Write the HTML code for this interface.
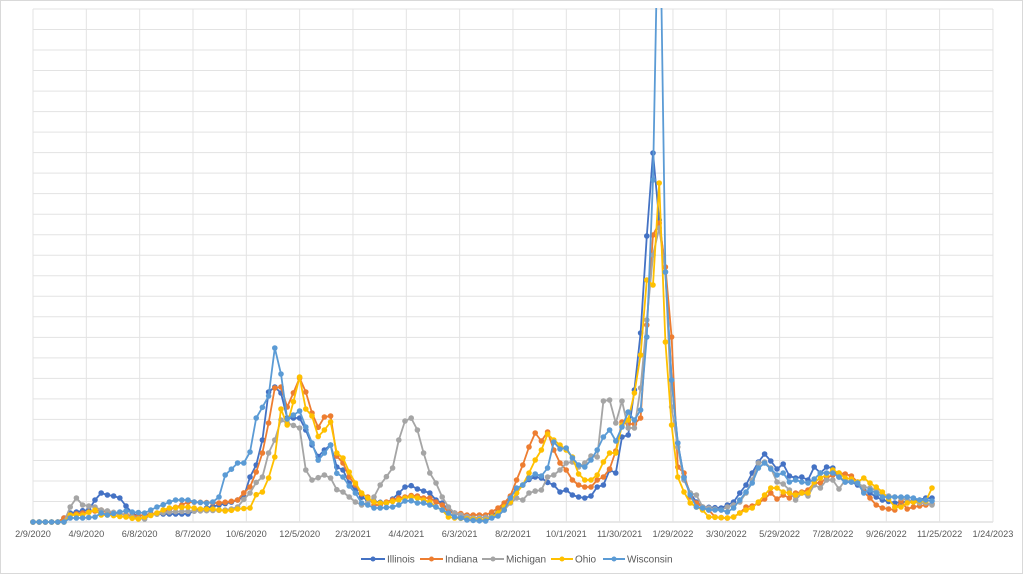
<!DOCTYPE html>
<html><head><meta charset="utf-8"><style>
html,body{margin:0;padding:0;background:#fff;}
svg{display:block;font-family:"Liberation Sans",sans-serif;}
</style></head><body>
<svg id="c" width="1023" height="575" viewBox="0 0 1023 575" xmlns="http://www.w3.org/2000/svg">
<rect x="0.5" y="0.5" width="1022" height="573" fill="#fff" stroke="#d9d9d9"/>
<g id="grid"></g>
<g id="labels" font-size="9.2" fill="#595959" text-anchor="middle"></g>
<defs><clipPath id="cp"><rect x="30" y="8" width="970" height="520"/></clipPath></defs>
<g id="series" clip-path="url(#cp)"></g>
<g font-size="10" fill="#595959">
<line x1="361" y1="559" x2="385" y2="559" stroke="#4472C4" stroke-width="2"/><circle cx="373" cy="559" r="2.5" fill="#4472C4"/><text x="387" y="562.5">Illinois</text>
<line x1="420" y1="559" x2="443" y2="559" stroke="#ED7D31" stroke-width="2"/><circle cx="431.5" cy="559" r="2.5" fill="#ED7D31"/><text x="445" y="562.5">Indiana</text>
<line x1="482" y1="559" x2="504" y2="559" stroke="#A5A5A5" stroke-width="2"/><circle cx="493" cy="559" r="2.5" fill="#A5A5A5"/><text x="506" y="562.5">Michigan</text>
<line x1="551" y1="559" x2="573" y2="559" stroke="#FFC000" stroke-width="2"/><circle cx="562" cy="559" r="2.5" fill="#FFC000"/><text x="575" y="562.5">Ohio</text>
<line x1="603" y1="559" x2="625" y2="559" stroke="#5B9BD5" stroke-width="2"/><circle cx="614" cy="559" r="2.5" fill="#5B9BD5"/><text x="627" y="562.5">Wisconsin</text>
</g>
</svg>
<script>
(function(){
var NS="http://www.w3.org/2000/svg";
function el(t,a,p){var e=document.createElementNS(NS,t);for(var k in a)e.setAttribute(k,a[k]);p.appendChild(e);return e;}
var g=document.getElementById('grid');
for(var i=0;i<=25;i++){var y=9+i*20.52;el('line',{x1:33,x2:993,y1:y,y2:y,stroke:i==25?'#d0d0d0':'#e3e3e3','stroke-width':1},g);}
var labs=["2/9/2020","4/9/2020","6/8/2020","8/7/2020","10/6/2020","12/5/2020","2/3/2021","4/4/2021","6/3/2021","8/2/2021","10/1/2021","11/30/2021","1/29/2022","3/30/2022","5/29/2022","7/28/2022","9/26/2022","11/25/2022","1/24/2023"];
var L=document.getElementById('labels');
for(var j=0;j<labs.length;j++){var x=33+j*53.33;el('line',{x1:x,x2:x,y1:9,y2:522,stroke:'#e3e3e3','stroke-width':1},g);
var t=el('text',{x:x,y:537},L);t.textContent=labs[j];}
var S={
"#4472C4":[[33,522],[60,522],[66,518],[72,513],[86,510],[97,500],[103,493],[110,495],[116,496],[122,498],[128,506],[135,513],[139,516],[150,514],[185,514],[190,512],[240,500],[245,497],[252,477],[258,465],[265,440],[271,392],[277,387],[283,393],[290,418],[297,418],[303,430],[309,445],[315,462],[322,450],[328,445],[334,467],[340,470],[347,483],[353,490],[365,500],[385,503],[390,499],[397,493],[402,487],[408,483],[415,489],[421,491],[428,493],[433,500],[440,503],[447,510],[467,518],[483,520],[497,512],[510,497],[520,485],[533,477],[540,478],[552,485],[558,492],[565,490],[572,495],[577,497],[583,498],[590,496],[595,487],[602,485],[608,470],[613,473],[620,437],[627,435],[632,390],[638,333],[645,236],[652,153],[658,220],[665,272],[670,380],[677,443],[683,477],[690,493],[697,502],[705,507],[720,508],[727,505],[733,502],[739,493],[745,485],[752,473],[757,462],[764,454],[770,461],[777,469],[783,464],[788,476],[795,478],[802,477],[808,480],[813,467],[820,473],[827,467],[833,468],[838,477],[845,482],[852,482],[858,485],[865,490],[872,493],[878,497],[885,500],[892,503],[900,502],[907,502],[913,500],[920,500],[927,498],[932,498]],
"#ED7D31":[[33,522],[60,522],[66,518],[72,515],[80,513],[90,512],[100,510],[110,513],[122,514],[135,516],[145,515],[160,513],[190,502],[220,503],[240,500],[247,487],[253,477],[259,472],[265,453],[271,423],[277,388],[283,387],[290,407],[297,378],[303,392],[309,413],[315,436],[322,417],[328,416],[333,448],[340,463],[347,477],[353,485],[359,494],[367,497],[373,505],[382,505],[388,502],[397,498],[402,497],[408,495],[415,496],[422,498],[428,498],[435,502],[440,505],[448,512],[457,513],[470,515],[483,515],[490,512],[497,508],[503,503],[508,496],[515,480],[522,465],[527,447],[533,433],[540,441],[547,432],[552,450],[558,463],[565,470],[572,480],[577,485],[583,487],[590,487],[595,480],[602,477],[608,469],[613,451],[620,422],[627,424],[633,424],[640,418],[645,325],[652,235],[658,223],[665,267],[671,337],[677,467],[683,473],[690,497],[697,503],[703,507],[710,510],[713,517],[727,518],[733,517],[740,513],[745,507],[752,506],[758,503],[764,499],[770,493],[777,499],[783,495],[789,498],[795,493],[802,492],[808,490],[813,483],[820,483],[827,478],[833,475],[838,473],[845,474],[852,476],[858,482],[865,492],[872,498],[878,505],[885,508],[892,510],[896,522],[902,501],[907,509],[913,507],[920,506],[927,505],[932,504]],
"#A5A5A5":[[33,522],[62,522],[67,517],[72,507],[78,498],[85,505],[92,507],[103,510],[117,513],[130,517],[142,519],[153,515],[167,512],[227,510],[240,507],[247,493],[253,487],[260,477],[267,453],[272,440],[277,417],[283,420],[290,423],[297,428],[302,452],[308,470],[315,480],[322,475],[328,478],[333,487],[340,492],[347,497],[353,502],[360,505],[370,503],[377,497],[383,485],[390,468],[397,440],[403,421],[408,408],[415,430],[422,453],[428,473],[433,483],[440,497],[447,507],[453,513],[473,518],[490,517],[497,515],[503,510],[508,503],[515,498],[522,500],[527,493],[540,490],[547,477],[553,475],[560,470],[565,463],[572,462],[578,467],[583,463],[588,456],[595,457],[601,401],[607,400],[613,423],[620,401],[627,428],[633,428],[640,388],[645,320],[652,255],[658,228],[665,272],[670,407],[677,447],[683,480],[690,493],[697,495],[703,507],[720,510],[727,507],[733,505],[740,502],[745,493],[752,480],[757,463],[764,462],[770,468],[777,482],[783,484],[789,490],[795,500],[802,493],[808,496],[813,485],[820,488],[827,480],[833,480],[838,489],[845,480],[852,482],[858,483],[865,487],[872,488],[878,490],[885,495],[892,497],[900,498],[907,500],[913,502],[920,503],[927,503],[932,505]],
"#FFC000":[[33,522],[64,522],[72,515],[85,515],[92,510],[97,515],[110,515],[123,517],[137,519],[147,517],[157,513],[167,508],[187,507],[200,509],[213,509],[227,511],[240,509],[247,508],[253,497],[260,492],[266,478],[272,457],[277,432],[283,409],[290,425],[297,377],[303,409],[309,416],[315,442],[322,430],[328,422],[333,447],[340,458],[347,472],[353,483],[359,493],[367,498],[373,502],[382,503],[388,503],[397,500],[402,498],[408,496],[415,498],[422,500],[428,502],[435,507],[440,510],[448,517],[457,518],[483,520],[490,517],[497,513],[503,507],[508,502],[515,493],[522,485],[527,473],[533,460],[540,450],[547,434],[552,440],[558,445],[565,450],[572,457],[577,474],[583,480],[590,480],[595,475],[602,462],[608,453],[613,453],[620,425],[627,420],[633,393],[638,355],[645,280],[652,285],[658,183],[663,342],[670,425],[677,477],[683,492],[690,503],[697,507],[703,510],[710,517],[727,518],[733,517],[740,513],[745,510],[752,508],[758,502],[764,495],[770,488],[777,488],[783,492],[789,493],[795,495],[802,493],[808,493],[813,482],[820,478],[827,475],[833,470],[838,473],[845,478],[852,479],[858,482],[863,478],[870,483],[877,487],[883,492],[890,499],[896,507],[902,507],[907,503],[913,502],[920,501],[927,501],[932,488]],
"#5B9BD5":[[33,522],[63,522],[72,518],[85,518],[92,517],[103,513],[110,515],[117,512],[123,511],[130,512],[147,513],[153,510],[160,507],[167,502],[173,500],[187,500],[193,502],[207,503],[213,502],[217,497],[222,489],[228,475],[235,463],[241,463],[247,452],[253,403],[259,418],[266,396],[271,366],[277,348],[283,374],[290,419],[297,411],[303,427],[309,443],[315,466],[322,453],[328,445],[333,469],[340,477],[347,486],[353,493],[360,503],[370,505],[377,508],[383,508],[390,507],[397,505],[403,501],[408,499],[415,503],[422,503],[428,505],[433,507],[440,510],[447,513],[453,517],[460,518],[467,520],[483,521],[490,518],[497,516],[503,510],[510,498],[515,488],[522,485],[533,474],[540,476],[547,468],[552,442],[558,449],[565,448],[572,458],[578,465],[583,467],[590,460],[595,450],[602,437],[608,430],[613,441],[620,427],[627,412],[633,420],[640,410],[645,337],[652,180],[658,-150],[663,272],[670,380],[677,443],[683,478],[690,495],[697,507],[703,508],[710,510],[720,510],[727,512],[733,508],[740,500],[745,492],[752,483],[757,468],[764,463],[770,469],[777,475],[783,473],[789,482],[795,480],[802,482],[808,483],[813,479],[820,473],[833,473],[838,477],[845,482],[852,482],[858,483],[865,493],[872,490],[878,493],[885,497],[900,497],[907,497],[913,498],[920,500],[927,500],[932,501]]
};
function interp(p,x){if(x<=p[0][0])return p[0][1];for(var i=1;i<p.length;i++){if(x<=p[i][0]){var a=p[i-1],b=p[i];return a[1]+(b[1]-a[1])*(x-a[0])/(b[0]-a[0]);}}return p[p.length-1][1];}
var G=document.getElementById('series');
for(var col in S){var p=S[col],pts=[];
 for(var i=0;i<=145;i++){var x=33+i*6.2;
  var y=interp(p,x);for(var k=0;k<p.length;k++){if(Math.abs(p[k][0]-x)<=3.1){y=p[k][1];break;}}
  pts.push([x,y]);}
 el('polyline',{points:pts.map(function(q){return q[0].toFixed(1)+','+q[1].toFixed(1)}).join(' '),fill:'none',stroke:col,'stroke-width':1.8,'stroke-linejoin':'round'},G);
 for(var i=0;i<pts.length;i++)if(pts[i][1]>5)el('circle',{cx:pts[i][0].toFixed(1),cy:pts[i][1].toFixed(1),r:2.8,fill:col},G);
}
})();
</script>
</body></html>
